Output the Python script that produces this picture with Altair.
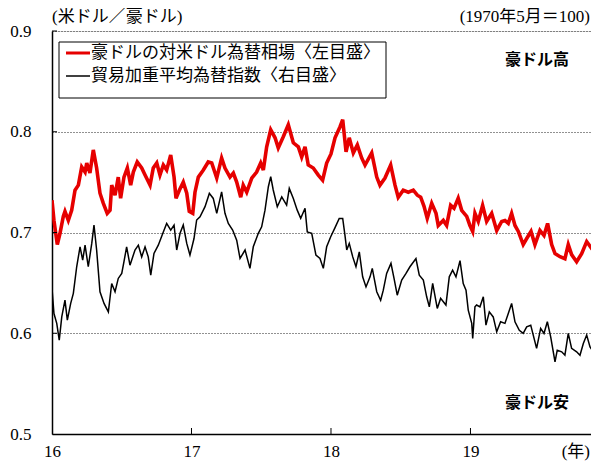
import altair as alt
import pandas as pd

# 豪ドルの対米ドル為替相場（米ドル／豪ドル）
red_t = [2016.000, 2016.014, 2016.038, 2016.057, 2016.081, 2016.093, 2016.117, 2016.141, 2016.165, 2016.189,
         2016.213, 2016.237, 2016.249, 2016.272, 2016.296, 2016.320, 2016.344, 2016.368, 2016.396, 2016.416,
         2016.428, 2016.452, 2016.475, 2016.492, 2016.516, 2016.540, 2016.564, 2016.583, 2016.611, 2016.643,
         2016.667, 2016.703, 2016.726, 2016.751, 2016.774, 2016.798, 2016.822, 2016.851, 2016.875, 2016.889,
         2016.913, 2016.941, 2016.966, 2016.984,
         2017.009, 2017.025, 2017.049, 2017.085, 2017.120, 2017.145, 2017.181, 2017.216, 2017.240, 2017.276,
         2017.300, 2017.324, 2017.353, 2017.371, 2017.396, 2017.432, 2017.467, 2017.496, 2017.515, 2017.539,
         2017.568, 2017.599, 2017.622, 2017.658, 2017.694, 2017.730, 2017.766, 2017.790, 2017.814, 2017.837,
         2017.873, 2017.909, 2017.940, 2017.969,
         2018.000, 2018.029, 2018.065, 2018.084, 2018.108, 2018.131, 2018.160, 2018.189, 2018.220, 2018.244,
         2018.292, 2018.328, 2018.351, 2018.387, 2018.428, 2018.459, 2018.482, 2018.518, 2018.554, 2018.590,
         2018.619, 2018.643, 2018.667, 2018.690, 2018.722, 2018.753, 2018.769, 2018.805, 2018.829, 2018.858,
         2018.882, 2018.912, 2018.937, 2018.973, 2018.996,
         2019.016, 2019.032, 2019.056, 2019.087, 2019.116, 2019.152, 2019.188, 2019.224, 2019.247, 2019.271,
         2019.295, 2019.319, 2019.343, 2019.378, 2019.403, 2019.434, 2019.462, 2019.498, 2019.527, 2019.553,
         2019.582, 2019.606, 2019.642, 2019.677, 2019.701, 2019.725, 2019.761, 2019.797, 2019.833, 2019.869,
         2019.892, 2019.921]
red_v = [0.732, 0.712, 0.688, 0.699, 0.716, 0.721, 0.712, 0.722, 0.742, 0.747,
         0.765, 0.760, 0.769, 0.759, 0.782, 0.764, 0.739, 0.729, 0.719, 0.722,
         0.747, 0.737, 0.755, 0.734, 0.755, 0.764, 0.747, 0.760, 0.770, 0.764,
         0.757, 0.747, 0.764, 0.769, 0.757, 0.767, 0.762, 0.777, 0.755, 0.734,
         0.742, 0.750, 0.739, 0.721,
         0.719, 0.740, 0.755, 0.762, 0.770, 0.769, 0.754, 0.774, 0.764, 0.755,
         0.759, 0.750, 0.735, 0.747, 0.740, 0.754, 0.760, 0.769, 0.762, 0.785,
         0.802, 0.794, 0.784, 0.795, 0.807, 0.789, 0.785, 0.775, 0.785, 0.767,
         0.764, 0.757, 0.752, 0.769,
         0.778, 0.794, 0.805, 0.812, 0.780, 0.794, 0.779, 0.787, 0.774, 0.767,
         0.779, 0.755, 0.747, 0.754, 0.767, 0.747, 0.735, 0.742, 0.740, 0.742,
         0.737, 0.735, 0.726, 0.714, 0.729, 0.719, 0.707, 0.712, 0.707, 0.727,
         0.724, 0.734, 0.722, 0.716, 0.707,
         0.701, 0.719, 0.711, 0.727, 0.711, 0.719, 0.702, 0.711, 0.712, 0.709,
         0.719, 0.707, 0.701, 0.688, 0.694, 0.701, 0.688, 0.702, 0.697, 0.709,
         0.688, 0.679, 0.676, 0.674, 0.688, 0.678, 0.671, 0.679, 0.691, 0.684,
         0.681, 0.678]

# 貿易加重平均為替指数（1970年5月＝100）
blk_t = [2016.000, 2016.014, 2016.034, 2016.052, 2016.070, 2016.093, 2016.110, 2016.134, 2016.153, 2016.177,
         2016.201, 2016.220, 2016.237, 2016.260, 2016.285, 2016.301, 2016.320, 2016.344, 2016.373, 2016.404,
         2016.428, 2016.452, 2016.475, 2016.500, 2016.516, 2016.535, 2016.559, 2016.595, 2016.619, 2016.643,
         2016.667, 2016.690, 2016.708, 2016.731, 2016.762, 2016.798, 2016.822, 2016.851, 2016.875, 2016.894,
         2016.918, 2016.941, 2016.966, 2016.989,
         2017.018, 2017.037, 2017.061, 2017.097, 2017.128, 2017.156, 2017.181, 2017.216, 2017.240, 2017.264,
         2017.295, 2017.324, 2017.348, 2017.384, 2017.419, 2017.443, 2017.479, 2017.503, 2017.527, 2017.551,
         2017.568, 2017.586, 2017.615, 2017.647, 2017.682, 2017.701, 2017.730, 2017.758, 2017.783, 2017.814,
         2017.830, 2017.862, 2017.892, 2017.921, 2017.945, 2017.969, 2017.998,
         2018.029, 2018.059, 2018.084, 2018.100, 2018.113, 2018.131, 2018.156, 2018.179, 2018.203, 2018.227,
         2018.251, 2018.280, 2018.296, 2018.328, 2018.356, 2018.375, 2018.399, 2018.430, 2018.452, 2018.475,
         2018.507, 2018.538, 2018.566, 2018.609, 2018.633, 2018.662, 2018.686, 2018.705, 2018.729, 2018.762,
         2018.786, 2018.824, 2018.848, 2018.872, 2018.896, 2018.925, 2018.948, 2018.968, 2018.984,
         2019.009, 2019.016, 2019.032, 2019.044, 2019.068, 2019.092, 2019.111, 2019.135, 2019.163, 2019.188,
         2019.216, 2019.247, 2019.271, 2019.295, 2019.319, 2019.350, 2019.378, 2019.403, 2019.432, 2019.450,
         2019.474, 2019.503, 2019.527, 2019.551, 2019.575, 2019.606, 2019.622, 2019.654, 2019.677, 2019.701,
         2019.725, 2019.761, 2019.785, 2019.809, 2019.833, 2019.857, 2019.880, 2019.904, 2019.921]
blk_v = [62.22, 60.98, 60.49, 59.66, 60.81, 61.64, 60.65, 61.48, 61.98, 63.30,
         64.29, 63.63, 64.37, 63.30, 64.46, 65.37, 64.13, 62.06, 61.48, 61.06,
         62.47, 62.06, 62.72, 62.97, 63.55, 64.29, 63.38, 64.13, 64.37, 63.79,
         64.29, 63.79, 62.88, 63.96, 64.37, 65.03, 65.45, 65.12, 65.37, 64.13,
         64.96, 65.37, 64.46, 63.88,
         64.70, 65.62, 65.78, 66.28, 66.94, 66.69, 65.95, 67.02, 65.95, 65.45,
         65.12, 64.62, 63.71, 64.13, 63.22, 64.29, 64.96, 65.28, 66.11, 67.27,
         67.77, 67.11, 66.28, 66.77, 66.36, 67.19, 66.69, 66.11, 65.70, 66.20,
         65.03, 64.96, 63.88, 63.71, 63.22, 64.29, 64.79,
         65.24, 65.70, 65.70, 64.87, 64.13, 64.46, 63.79, 63.30, 64.04, 62.80,
         62.30, 62.80, 63.22, 62.06, 61.64, 62.14, 62.97, 63.47, 62.72, 61.89,
         62.64, 62.97, 63.30, 63.71, 62.88, 62.64, 61.81, 61.31, 62.47, 61.23,
         61.73, 61.40, 62.80, 63.13, 62.80, 63.60, 62.47, 62.14, 61.15,
         60.49, 59.74, 61.31, 61.40, 61.31, 61.81, 60.40, 61.06, 60.81, 60.07,
         60.57, 60.49, 60.98, 61.48, 60.57, 60.15, 59.99, 60.32, 60.40, 59.91,
         59.25, 60.24, 59.99, 60.57, 59.82, 58.58, 59.16, 59.08, 58.91, 59.99,
         59.25, 59.08, 58.91, 59.49, 59.91, 59.32, 59.08, 59.00, 58.83]

x_ticks = [2016, 2017, 2018, 2019]
y_ticks = [0.5, 0.6, 0.7, 0.8, 0.9]
x_domain = [2016, 2019.864]
left_domain = [0.5, 0.9]
right_domain = [55, 75]

legend_labels = ["豪ドルの対米ドル為替相場〈左目盛〉", "貿易加重平均為替指数〈右目盛〉"]
left_unit = "(米ドル／豪ドル)"
right_unit = "(1970年5月＝100)"
high_label = "豪ドル高"
low_label = "豪ドル安"
year_unit = "(年)"

RED = "#e60000"
FONT_NUM = "Liberation Serif"
FONT_JP = "Liberation Serif, Noto Sans CJK JP"
FONT_GOTHIC = "Noto Sans CJK JP"

red_df = pd.DataFrame({"t": red_t, "v": red_v})
blk_df = pd.DataFrame({"t": blk_t, "v": blk_v})


def xscale():
    return alt.Scale(domain=x_domain, nice=False, zero=False)


red_line = alt.Chart(red_df).mark_line(color=RED, strokeWidth=3.6, clip=True).encode(
    x=alt.X("t:Q", scale=xscale(), title=None,
            axis=alt.Axis(values=x_ticks, labelExpr="substring(toString(datum.value), 2, 4)",
                          grid=False, ticks=False, labelPadding=9, labelFontSize=17,
                          labelFont=FONT_NUM, labelColor="black", labelFlush=False,
                          domainColor="black", domainWidth=1.5)),
    y=alt.Y("v:Q", scale=alt.Scale(domain=left_domain, nice=False, zero=False), title=None,
            axis=alt.Axis(values=y_ticks, format=".1f", orient="left", grid=True,
                          gridDash=[1, 2], gridColor="#222222", gridWidth=1, ticks=False,
                          labelPadding=21, labelFontSize=17, labelFont=FONT_NUM,
                          labelColor="black", labelFlush=False,
                          domainColor="black", domainWidth=1.5)),
)

ytick_rules = alt.Chart(pd.DataFrame({"v": y_ticks[1:]})).mark_rule(color="black", strokeWidth=1).encode(
    y=alt.Y("v:Q", scale=alt.Scale(domain=left_domain, nice=False, zero=False)),
    x=alt.value(0), x2=alt.value(5),
)
xtick_rules = alt.Chart(pd.DataFrame({"t": x_ticks[1:]})).mark_rule(color="black", strokeWidth=1).encode(
    x=alt.X("t:Q", scale=xscale()),
    y=alt.value(403), y2=alt.value(397),
)

left_layer = alt.layer(red_line, ytick_rules, xtick_rules)

blk_line = alt.Chart(blk_df).mark_line(color="black", strokeWidth=1.5, clip=True).encode(
    x=alt.X("t:Q", scale=xscale()),
    y=alt.Y("v:Q", scale=alt.Scale(domain=right_domain, nice=False, zero=False), axis=None),
)

one = pd.DataFrame({"k": [0]})


def label(text, x, y, align="left", size=17, font=FONT_JP, weight="normal"):
    return alt.Chart(one).mark_text(
        text=text, x=x, y=y, align=align, baseline="middle", fontSize=size,
        font=font, fontWeight=weight, color="black"
    ).encode()


legend_box = alt.Chart(one).mark_rect(fill="white", stroke="black", strokeWidth=1).encode(
    x=alt.value(7), x2=alt.value(334), y=alt.value(11), y2=alt.value(67)
)
legend_red = alt.Chart(one).mark_rule(color=RED, strokeWidth=3).encode(
    x=alt.value(14), x2=alt.value(38), y=alt.value(22)
)
legend_blk = alt.Chart(one).mark_rule(color="black", strokeWidth=1.5).encode(
    x=alt.value(14), x2=alt.value(38), y=alt.value(45)
)

texts = [
    label(legend_labels[0], 39, 22),
    label(legend_labels[1], 39, 45),
    label(left_unit, 0, -14),
    label(right_unit, 538, -14, align="right"),
    label(high_label, 485, 29, align="center", size=16, font=FONT_GOTHIC, weight="bold"),
    label(low_label, 485, 372, align="center", size=16, font=FONT_GOTHIC, weight="bold"),
    label(year_unit, 538, 421, align="right"),
]

chart = alt.layer(
    left_layer, blk_line, legend_box, legend_red, legend_blk, *texts
).resolve_scale(y="independent").properties(
    width=539, height=403,
    autosize=alt.AutoSizeParams(type="none"),
    padding={"left": 44, "top": 23, "right": 0, "bottom": 28},
).configure_view(stroke=None).configure(background="white")

chart.save("out.html", embed_options={"renderer": "svg", "actions": False})
